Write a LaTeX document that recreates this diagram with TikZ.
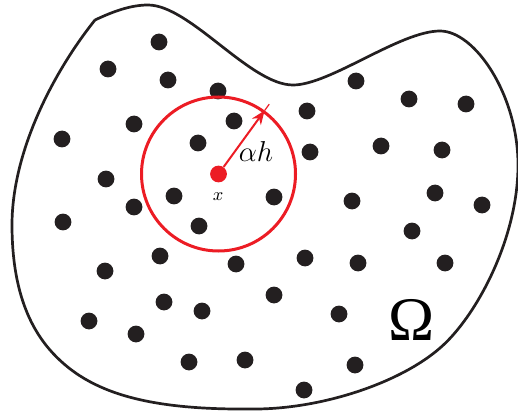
\documentclass[tikz,border=0pt]{standalone}
\usepackage{xcolor}
\usepackage{fontspec}
\newfontfamily\omfont{Liberation Serif}
\usetikzlibrary{arrows.meta,calc}
\definecolor{ballred}{HTML}{EC1C24}
\definecolor{dotblack}{HTML}{231F20}

\begin{document}
\begin{tikzpicture}[x=0.5pt,y=-0.5pt,
    pt/.style={circle,fill=dotblack,inner sep=0pt,minimum size=8.4pt}]
  \useasboundingbox (0,0) rectangle (518,411);
  % domain boundary
  \draw[dotblack,line width=1.35pt] (95,20)
    .. controls (112,12) and (130,5) .. (148,5)
    .. controls (190,5) and (250,85) .. (293,85)
    .. controls (330,85) and (400,31) .. (440,31)
    .. controls (475,31) and (518,95) .. (518,165)
    .. controls (518,240) and (475,318) .. (440,348)
    .. controls (400,383) and (320,410) .. (250,409)
    .. controls (140,410) and (85,390) .. (50,350)
    .. controls (30,327) and (12,290) .. (12,225)
    .. controls (12,150) and (55,70) .. (95,20);
  % sample points
  \foreach \px/\py [count=\i] in {159/42,108/69,168/80,218/91,356/81,409/99,
      466/104,134/124,234/121,307/111,62/139,198/143,310/152,381/146,442/150,
      106/179,174/196,274/197,352/201,435/193,482/205,134/207,63/222,199/226,
      412/231,160/256,236/264,305/258,358/263,445/263,105/271,274/295,164/302,
      202/311,339/314,89/321,136/334,189/362,245/360,355/365,304/390}
    \node[pt] (p\i) at (\px,\py) {};
  % ball around x
  \node[pt,fill=ballred] (xc) at (218.5,174) {};
  \node[circle,draw=ballred,line width=1.5pt,inner sep=0pt,minimum size=77pt] (ball) at (xc) {};
  \coordinate (tipend) at ($(xc)!1.1!(ball.54)$);
  \draw[ballred,line width=1pt,-{Stealth[length=7pt,width=5.5pt]}] (xc) -- (ball.54);
  \draw[ballred,line width=0.6pt] (ball.54) -- (tipend);
  \node (ah) at (256,152) {\fontsize{14}{16}\selectfont$\alpha h$};
  \node (xl) at (218,197) {\fontsize{9}{11}\selectfont$x$};
  \node (om) at (412,320) {\omfont\fontsize{31}{34}\selectfont Ω};
\end{tikzpicture}
\end{document}
